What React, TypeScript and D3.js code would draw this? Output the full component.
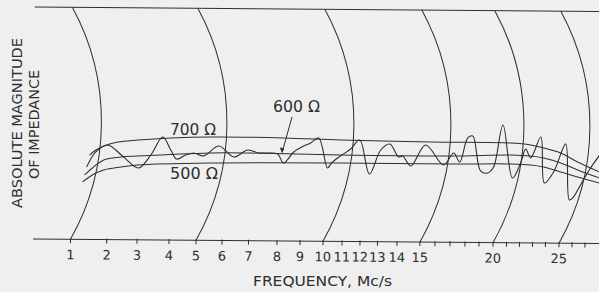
import React from "react";
import * as d3 from "d3";

// ---- frequency axis (nonlinear recorder scale, Mc/s) ----
const FREQ_KNOTS = [1, 2, 3, 4, 5, 6, 7, 8, 9, 10, 11, 12, 13, 14, 15, 16, 17, 18, 19, 20, 21, 22, 23, 24, 25, 26, 27, 28];
const FREQ_KNOT_PX = [70.5, 106.7, 137, 169, 196, 222, 248.5, 277, 300, 323, 342, 360, 377.5, 397, 420, 435, 450, 465, 479, 493, 506.5, 519.5, 532.5, 545.5, 559, 572, 585, 598];
const TICK_FREQS = [1, 2, 3, 4, 5, 6, 7, 8, 9, 10, 11, 12, 13, 14, 15, 16, 17, 18, 19, 20, 21, 22, 23, 24, 25, 26, 27];
const LABELED_FREQS = [1, 2, 3, 4, 5, 6, 7, 8, 9, 10, 11, 12, 13, 14, 15, 20, 25];
const ARC_FREQS = [1, 5, 10, 15, 20, 25];

// ---- measured impedance (oscillating trace) ----
const measFreq = [1.43, 1.68, 2.01, 2.5, 3.03, 3.41, 3.78, 4.04, 4.26, 4.59, 4.89, 5.27, 5.85, 6.42, 6.94, 7.33, 7.65, 8.0, 8.26, 8.7, 9.13, 9.43, 9.78, 10.21, 10.42, 10.89, 11.44, 11.94, 12.51, 13.13, 13.59, 14.04, 14.22, 14.57, 15.33, 16.53, 17.2, 17.6, 18.14, 18.5, 19.07, 19.57, 20.0, 20.67, 21.42, 22.04, 22.42, 22.81, 23.58, 23.88, 24.56, 25.46, 25.77, 26.08, 26.62, 27.38, 28.08];
const measOhm = [462, 588, 647, 556, 457, 566, 717, 609, 534, 568, 586, 562, 646, 555, 614, 590, 591, 583, 508, 601, 652, 677, 719, 470, 512, 571, 629, 705, 422, 623, 673, 566, 575, 492, 668, 502, 603, 528, 729, 746, 455, 438, 489, 839, 398, 524, 641, 567, 742, 359, 451, 686, 219, 244, 345, 487, 596];

// ---- reference resistor traces ----
const r700Freq = [1.51, 1.68, 1.9, 2.34, 3.0, 4.04, 5.54, 8.26, 10.89, 15.67, 21.27, 22.81, 23.81, 25.08, 26.38, 28.08];
const r700Ohm = [562, 604, 638, 672, 690, 709, 720, 717, 704, 693, 690, 675, 651, 610, 536, 454];
const r600Freq = [1.37, 1.59, 1.9, 2.44, 3.0, 5.54, 7.05, 10.89, 17.0, 21.27, 22.81, 23.81, 25.08, 26.38, 28.08];
const r600Ohm = [395, 454, 522, 547, 557, 587, 589, 579, 578, 590, 583, 567, 527, 470, 404];
const r500Freq = [1.32, 1.59, 1.9, 2.44, 3.0, 5.54, 10.89, 17.0, 21.27, 22.81, 23.81, 25.08, 26.38, 28.08];
const r500Ohm = [337, 396, 438, 464, 482, 503, 512, 511, 515, 508, 492, 452, 411, 362];

const W = 599;
const H = 292;
const AXIS_Y = 239;
const TOP_Y = 7;
const X_START = 33;
const X_END = 608;
const ROT = 0.456;
const INK = "#2e2e2e";
const BG = "#efefef";
const FONT = "'DejaVu Sans', 'Liberation Sans', sans-serif";

export default function App() {
  const x = d3.scaleLinear().domain(FREQ_KNOTS).range(FREQ_KNOT_PX);
  const y = d3.scaleLinear().domain([500, 700]).range([162, 138]);

  const line = d3
    .line<[number, number]>()
    .x((d) => x(d[0]))
    .y((d) => y(d[1]))
    .curve(d3.curveCatmullRom.alpha(0.5));

  const zip = (a: number[], b: number[]) => a.map((v, i) => [v, b[i]] as [number, number]);

  // recorder pen arcs
  const chord = AXIS_Y - TOP_Y;
  const bulge = 30;
  const R = (chord * chord) / (8 * bulge) + bulge / 2;
  const midY = (AXIS_Y + TOP_Y) / 2;
  const ang = Math.atan2(chord / 2, R - bulge);
  const arcPath = (f: number) => {
    const cx = x(f) - (R - bulge);
    const p = d3.path();
    p.arc(cx, midY, R, -ang, ang, false);
    return p.toString();
  };

  return (
    <svg
      width={W}
      height={H}
      style={{ position: "absolute", left: 0, top: 0, display: "block" }}
      fontFamily={FONT}
    >
      <rect x={0} y={0} width={W} height={H} fill={BG} />
      <g transform={`rotate(${ROT}, ${X_START}, ${AXIS_Y})`}>
        {/* frame lines */}
        <line x1={X_START} x2={X_END} y1={TOP_Y} y2={TOP_Y} stroke={INK} strokeWidth={1.1} />
        <line x1={X_START} x2={X_END} y1={AXIS_Y} y2={AXIS_Y} stroke={INK} strokeWidth={1.1} />
        {ARC_FREQS.map((f) => (
          <path key={"arc" + f} d={arcPath(f)} fill="none" stroke={INK} strokeWidth={1} />
        ))}
        {TICK_FREQS.map((f) => (
          <line key={"t" + f} x1={x(f)} x2={x(f)} y1={AXIS_Y - 1} y2={AXIS_Y + 4} stroke={INK} strokeWidth={1} />
        ))}
        {LABELED_FREQS.map((f) => (
          <text key={"l" + f} x={x(f)} y={AXIS_Y + 20} textAnchor="middle" fontSize={13} fill={INK}>
            {f}
          </text>
        ))}
        {/* traces */}
        <path d={line(zip(r700Freq, r700Ohm)) || ""} fill="none" stroke={INK} strokeWidth={1} />
        <path d={line(zip(r600Freq, r600Ohm)) || ""} fill="none" stroke={INK} strokeWidth={1} />
        <path d={line(zip(r500Freq, r500Ohm)) || ""} fill="none" stroke={INK} strokeWidth={1} />
        <path d={line(zip(measFreq, measOhm)) || ""} fill="none" stroke={INK} strokeWidth={1.1} />
      </g>

      {/* annotations */}
      <text x={170} y={135} fontSize={15} fill={INK} textLength={46} lengthAdjust="spacingAndGlyphs">
        700 Ω
      </text>
      <text x={273} y={112} fontSize={15} fill={INK} textLength={47} lengthAdjust="spacingAndGlyphs">
        600 Ω
      </text>
      <text x={170} y={179} fontSize={15} fill={INK} textLength={48} lengthAdjust="spacingAndGlyphs">
        500 Ω
      </text>
      <line x1={292} y1={117} x2={282.5} y2={151} stroke={INK} strokeWidth={1} />
      <path d="M279.8,147.5 L282.2,153.5 L284.2,148.3 Z" fill={INK} />

      {/* axis titles */}
      <text x={253} y={286} fontSize={14} fill={INK} textLength={139} lengthAdjust="spacingAndGlyphs">
        FREQUENCY, Mc/s
      </text>
      <text transform="translate(21.5,208) rotate(-90)" fontSize={14} fill={INK} textLength={170} lengthAdjust="spacingAndGlyphs">
        ABSOLUTE MAGNITUDE
      </text>
      <text transform="translate(39,179) rotate(-90)" fontSize={14} fill={INK} textLength={109} lengthAdjust="spacingAndGlyphs">
        OF IMPEDANCE
      </text>
    </svg>
  );
}
